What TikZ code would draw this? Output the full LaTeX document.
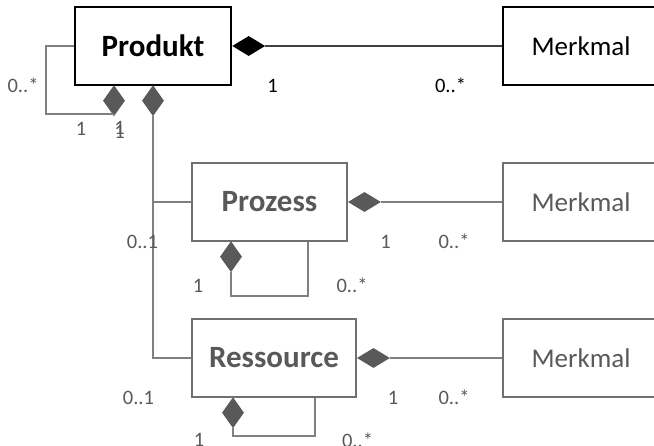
\documentclass[tikz,border=0pt]{standalone}
\usepackage{fontspec}
\setmainfont{Carlito}
\usetikzlibrary{calc,shapes.geometric}
\definecolor{umlline}{HTML}{808080}
\definecolor{umlbox}{HTML}{707070}
\definecolor{umltext}{HTML}{595959}

\begin{document}
\begin{tikzpicture}[x=1pt,y=-1pt,
    cls/.style={draw=umlbox, line width=1.5pt, text=umltext, inner sep=0pt, minimum height=78pt},
    topbox/.style={draw=black, text=black, line width=2pt},
    clsname/.style={font=\fontsize{31}{36}\selectfont\bfseries},
    attr/.style={font=\fontsize{27}{32}\selectfont, minimum width=156pt},
    hdia/.style={diamond, fill=umltext, inner sep=0pt, minimum width=33pt, minimum height=20pt, anchor=west},
    vdia/.style={diamond, fill=umltext, inner sep=0pt, minimum width=22pt, minimum height=31pt, anchor=north},
    conn/.style={draw=umlline, line width=1.3pt},
    mult/.style={text=umltext, inner sep=0pt, font=\fontsize{20.5}{24}\selectfont}]
            \useasboundingbox (0,0) rectangle (654,446);
            \node[cls, topbox, clsname, minimum width=156pt] at (153,46) (pr) {Produkt};
            \node[cls, clsname, minimum width=155pt] at (269.5,202) (pz) {Prozess};
            \node[cls, clsname, minimum width=164pt] at (274,358) (rs) {Ressource};
            \node[cls, topbox, attr] at (581,46) (m1) {Merkmal};
            \node[cls, attr] at (581,202) (m2) {Merkmal};
            \node[cls, attr] at (581,358) (m3) {Merkmal};
            \node[hdia, fill=black] at (pr.east) (d1) {};
            \node[hdia] at (pz.east) (d2) {};
            \node[hdia] at (rs.east) (d3) {};
            \node[vdia] at (114,85) (d4) {};
            \node[vdia] at (153,85) (d5) {};
            \node[vdia] at (231,241) (d6) {};
            \node[vdia] at (233,397) (d7) {};
            \coordinate (l1) at (46,114);
            \coordinate (l2) at (308,296);
            \coordinate (l3) at (315,436);
            \draw[conn, draw=black!75] (d1.east) -- (m1.west);
            \draw[conn] (d2.east) -- (m2.west);
            \draw[conn] (d3.east) -- (m3.west);
            \draw[conn] (pr.west) -| (l1) -- (d4.south |- l1);
            \draw[conn] (d5.south) |- (rs.west);
            \draw[conn] (pz.west) -- (d5.south |- pz.west);
            \draw[conn] (d6.south) |- (l2) -- (l2 |- pz.south);
            \draw[conn] (d7.south) |- (l3) -- (l3 |- rs.south);
            \node[mult, text=black] at (272.5,85.5) (t1) {1};
            \node[mult, text=black] at (450.5,85.5) (t2) {0..*};
            \node[mult] at (23,85.5) (t3) {0..*};
            \node[mult] at (81,129) (t4) {1};
            \node[mult] at (119.5,128) (t5) {1};
            \node[mult] at (119.5,132) (t6) {1};
            \node[mult] at (142.5,242) (t7) {0..1};
            \node[mult] at (385.5,241.5) (t8) {1};
            \node[mult] at (454,241.5) (t9) {0..*};
            \node[mult] at (198,286) (t10) {1};
            \node[mult] at (352,285) (t11) {0..*};
            \node[mult] at (138.5,398) (t12) {0..1};
            \node[mult] at (393,397.5) (t13) {1};
            \node[mult] at (454,397.5) (t14) {0..*};
            \node[mult] at (199,440) (t15) {1};
            \node[mult] at (357.5,440) (t16) {0..*};
        \end{tikzpicture}
\end{document}
